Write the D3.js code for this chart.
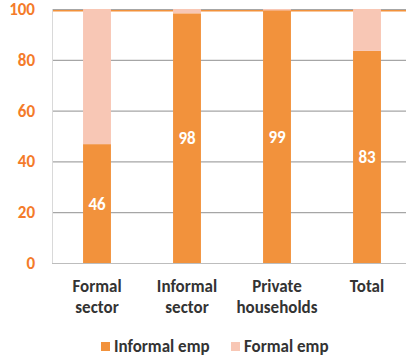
<!DOCTYPE html>
<html>
<head>
<meta charset="utf-8">
<script src="https://cdn.jsdelivr.net/npm/d3@7"></script>
<style>
  body { margin: 0; background: #fff; }
  svg { display: block; font-family: Calibri, Carlito, "Open Sans", sans-serif; }
</style>
</head>
<body>
<div id="chart"></div>
<script>
const categories = [["Formal", "sector"], ["Informal", "sector"], ["Private", "households"], ["Total"]];
const informalEmp = [46.8, 98.3, 99.4, 83.5];
const labels = ["46", "98", "99", "83"];
const formalEmp = informalEmp.map(v => 100 - v);
const yTicks = [0, 20, 40, 60, 80, 100];
const legendNames = ["Informal emp", "Formal emp"];

const width = 406, height = 359;
const margin = { top: 9, right: -6, bottom: 96, left: 52 };

const svg = d3.select("#chart").append("svg")
  .attr("width", width)
  .attr("height", height);

const x = d3.scaleBand()
  .domain(d3.range(categories.length))
  .range([margin.left, width - margin.right])
  .paddingInner(0.69)
  .paddingOuter(0.345);

const y = d3.scaleLinear()
  .domain([0, 100])
  .range([height - margin.bottom, margin.top]);

const colors = ["#f2923c", "#f8c7b5"];

// gridlines
svg.append("g")
  .selectAll("line")
  .data(yTicks)
  .join("line")
  .attr("x1", margin.left)
  .attr("x2", width)
  .attr("y1", d => y(d) + 0.5)
  .attr("y2", d => y(d) + 0.5)
  .attr("stroke", d => d === 0 ? "#bdbdbd" : "#a6a6a6")
  .attr("stroke-width", 1.2);

// orange line at 100
svg.append("line")
  .attr("x1", margin.left)
  .attr("x2", width)
  .attr("y1", y(100) + 1.8)
  .attr("y2", y(100) + 1.8)
  .attr("stroke", "#f2923c")
  .attr("stroke-width", 1.5);

// left axis line
svg.append("line")
  .attr("x1", margin.left + 0.5)
  .attr("x2", margin.left + 0.5)
  .attr("y1", y(100))
  .attr("y2", y(0))
  .attr("stroke", "#d9d9d9");

// stacked bars
const stack = categories.map((c, i) => ({ i, inf: informalEmp[i], form: formalEmp[i] }));

svg.append("g").selectAll("rect.inf")
  .data(stack)
  .join("rect")
  .attr("x", d => x(d.i))
  .attr("width", x.bandwidth())
  .attr("y", d => y(d.inf))
  .attr("height", d => y(0) - y(d.inf))
  .attr("fill", colors[0]);

svg.append("g").selectAll("rect.form")
  .data(stack)
  .join("rect")
  .attr("x", d => x(d.i))
  .attr("width", x.bandwidth())
  .attr("y", d => y(100))
  .attr("height", d => y(d.inf) - y(100))
  .attr("fill", colors[1]);

// value labels
svg.append("g").selectAll("text")
  .data(stack)
  .join("text")
  .attr("x", d => x(d.i) + x.bandwidth() / 2)
  .attr("y", d => (y(d.inf) + y(0)) / 2)
  .attr("dy", "0.35em")
  .attr("text-anchor", "middle")
  .attr("fill", "#fff")
  .attr("font-weight", "bold")
  .attr("font-size", 17)
  .text((d, i) => labels[i]);

// y tick labels
svg.append("g").selectAll("text")
  .data(yTicks)
  .join("text")
  .attr("x", 35)
  .attr("y", d => y(d))
  .attr("dy", "0.35em")
  .attr("text-anchor", "end")
  .attr("fill", "#f47b2a")
  .attr("font-weight", "bold")
  .attr("font-size", 17)
  .text(d => d);

// x category labels
const xl = svg.append("g").selectAll("text")
  .data(categories)
  .join("text")
  .attr("x", (d, i) => x(i) + x.bandwidth() / 2)
  .attr("y", 292)
  .attr("text-anchor", "middle")
  .attr("fill", "#333")
  .attr("font-weight", "bold")
  .attr("font-size", 17);

xl.selectAll("tspan")
  .data(d => d)
  .join("tspan")
  .attr("x", function() { return this.parentNode.getAttribute("x"); })
  .attr("dy", (d, i) => i === 0 ? 0 : 21)
  .text(d => d);

// legend
const legend = svg.append("g");
const legendX = [101, 231];
legendNames.forEach((name, i) => {
  legend.append("rect")
    .attr("x", legendX[i])
    .attr("y", 342)
    .attr("width", 9)
    .attr("height", 9)
    .attr("fill", colors[i]);
  legend.append("text")
    .attr("x", legendX[i] + 13)
    .attr("y", 352)
    .attr("fill", "#333")
    .attr("font-size", 17)
    .attr("font-weight", "bold")
    .text(name);
});
</script>
</body>
</html>
